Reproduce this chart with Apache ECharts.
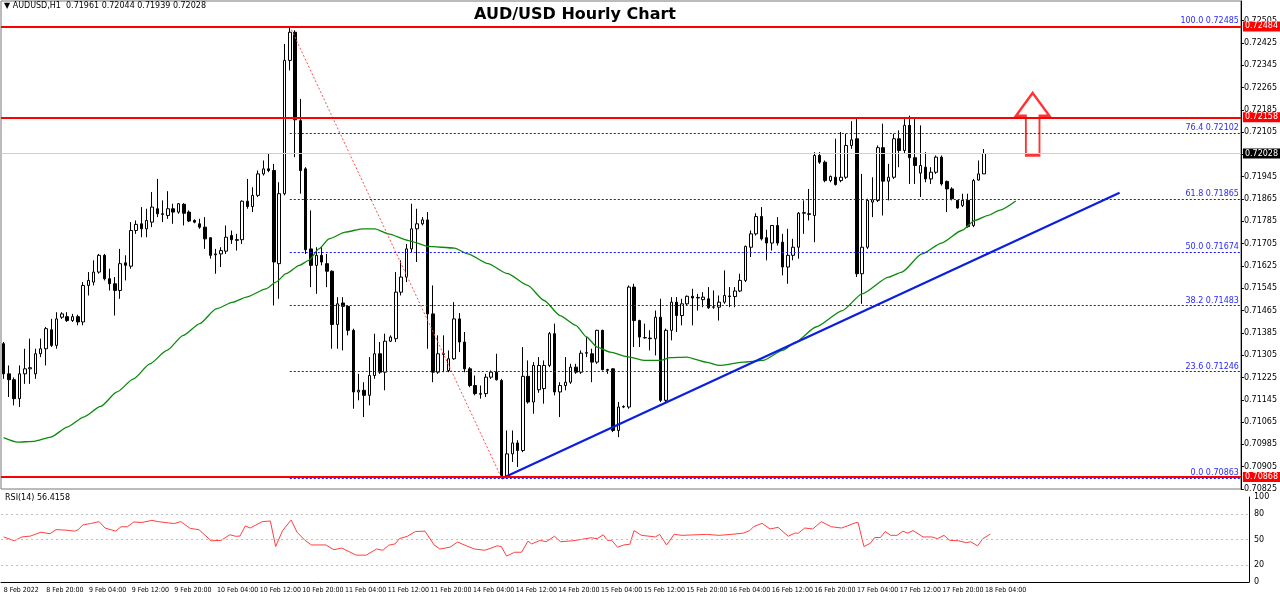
<!DOCTYPE html>
<html>
<head>
<meta charset="utf-8">
<script src="https://cdn.jsdelivr.net/npm/echarts@6/dist/echarts.min.js"></script>
<style>html,body{margin:0;padding:0;background:#fff}#chart{width:1280px;height:599px}</style>
</head>
<body>
<div id="chart"></div>
<script>
// hourly candles [open, close, low, high], 8 Feb 12:00 .. 18 Feb 05:00
var candles = [
[0.71346,0.71238,0.71220,0.71352],[0.71238,0.71217,0.71155,0.71268],[0.71217,0.71149,0.71125,0.71225],[0.71149,0.71238,0.71119,0.71268],
[0.71238,0.71256,0.71202,0.71328],[0.71256,0.71260,0.71202,0.71364],[0.71238,0.71310,0.71220,0.71328],[0.71310,0.71328,0.71298,0.71364],
[0.71328,0.71400,0.71268,0.71406],[0.71396,0.71340,0.71334,0.71435],[0.71340,0.71435,0.71328,0.71459],[0.71441,0.71453,0.71435,0.71459],
[0.71443,0.71429,0.71424,0.71459],[0.71429,0.71443,0.71424,0.71453],[0.71443,0.71424,0.71412,0.71450],[0.71424,0.71555,0.71412,0.71567],
[0.71555,0.71573,0.71519,0.71603],[0.71567,0.71603,0.71555,0.71645],[0.71603,0.71663,0.71597,0.71668],[0.71663,0.71579,0.71573,0.71668],
[0.71579,0.71561,0.71537,0.71615],[0.71561,0.71537,0.71447,0.71585],[0.71537,0.71633,0.71507,0.71686],[0.71636,0.71627,0.71573,0.71663],
[0.71624,0.71752,0.71615,0.71782],[0.71752,0.71774,0.71740,0.71788],[0.71776,0.71758,0.71728,0.71836],[0.71758,0.71788,0.71728,0.71830],
[0.71782,0.71836,0.71764,0.71890],[0.71830,0.71812,0.71800,0.71937],[0.71812,0.71810,0.71782,0.71860],[0.71806,0.71830,0.71794,0.71893],
[0.71830,0.71818,0.71776,0.71848],[0.71818,0.71848,0.71812,0.71850],[0.71846,0.71814,0.71770,0.71850],[0.71818,0.71786,0.71782,0.71824],
[0.71788,0.71782,0.71778,0.71792],[0.71776,0.71764,0.71758,0.71794],[0.71764,0.71722,0.71686,0.71800],[0.71726,0.71663,0.71651,0.71728],
[0.71665,0.71668,0.71597,0.71686],[0.71668,0.71680,0.71621,0.71692],[0.71678,0.71728,0.71668,0.71770],[0.71734,0.71719,0.71704,0.71752],
[0.71719,0.71717,0.71680,0.71740],[0.71719,0.71857,0.71704,0.71860],[0.71857,0.71838,0.71830,0.71937],[0.71838,0.71878,0.71818,0.71907],
[0.71878,0.71955,0.71872,0.71967],[0.71955,0.71973,0.71949,0.72003],[0.71973,0.71967,0.71961,0.72029],[0.71967,0.71639,0.71483,0.71991],
[0.71633,0.71884,0.71507,0.71925],[0.71884,0.72362,0.71878,0.72421],[0.72362,0.72463,0.72326,0.72485],[0.72463,0.72149,0.72015,0.72470],
[0.72146,0.71967,0.71884,0.72224],[0.71973,0.71683,0.71668,0.71979],[0.71686,0.71627,0.71549,0.71824],[0.71627,0.71663,0.71525,0.71692],
[0.71663,0.71639,0.71627,0.71692],[0.71633,0.71606,0.71549,0.71668],[0.71606,0.71415,0.71328,0.71609],[0.71415,0.71489,0.71328,0.71513],
[0.71492,0.71480,0.71322,0.71513],[0.71480,0.71394,0.71376,0.71483],[0.71394,0.71173,0.71113,0.71400],[0.71173,0.71179,0.71143,0.71238],
[0.71179,0.71161,0.71083,0.71208],[0.71161,0.71232,0.71125,0.71298],[0.71232,0.71310,0.71220,0.71382],[0.71310,0.71244,0.71238,0.71352],
[0.71244,0.71355,0.71179,0.71382],[0.71355,0.71370,0.71352,0.71376],[0.71364,0.71531,0.71352,0.71603],[0.71531,0.71585,0.71519,0.71645],
[0.71585,0.71686,0.71567,0.71704],[0.71686,0.71758,0.71674,0.71848],[0.71758,0.71776,0.71639,0.71830],[0.71776,0.71790,0.71770,0.71800],
[0.71790,0.71453,0.71328,0.71818],[0.71453,0.71244,0.71208,0.71555],[0.71244,0.71310,0.71238,0.71376],[0.71310,0.71308,0.71244,0.71376],
[0.71250,0.71292,0.71244,0.71322],[0.71292,0.71435,0.71288,0.71495],[0.71435,0.71352,0.71316,0.71456],[0.71352,0.71256,0.71244,0.71388],
[0.71256,0.71196,0.71190,0.71262],[0.71196,0.71167,0.71161,0.71232],[0.71167,0.71165,0.71149,0.71196],[0.71167,0.71226,0.71155,0.71238],
[0.71226,0.71244,0.71220,0.71250],[0.71244,0.71217,0.71214,0.71310],[0.71214,0.70868,0.70863,0.71220],[0.70868,0.70951,0.70863,0.71035],
[0.70951,0.70990,0.70922,0.71035],[0.70990,0.70963,0.70904,0.71000],[0.70963,0.71229,0.70957,0.71334],[0.71229,0.71137,0.71131,0.71286],
[0.71137,0.71268,0.71095,0.71280],[0.71181,0.71268,0.71170,0.71298],[0.71185,0.71268,0.71131,0.71286],[0.71268,0.71382,0.71262,0.71388],
[0.71382,0.71173,0.71161,0.71418],[0.71173,0.71196,0.71083,0.71208],[0.71196,0.71208,0.71179,0.71298],[0.71208,0.71262,0.71202,0.71274],
[0.71262,0.71244,0.71238,0.71274],[0.71244,0.71312,0.71238,0.71322],[0.71312,0.71314,0.71298,0.71370],[0.71310,0.71280,0.71208,0.71328],
[0.71280,0.71394,0.71274,0.71396],[0.71394,0.71253,0.71250,0.71396],[0.71253,0.71251,0.71238,0.71256],[0.71256,0.71035,0.71029,0.71258],
[0.71035,0.71119,0.71011,0.71137],[0.71119,0.71121,0.71115,0.71125],[0.71119,0.71549,0.71113,0.71555],[0.71549,0.71429,0.71334,0.71561],
[0.71429,0.71370,0.71334,0.71432],[0.71368,0.71367,0.71364,0.71418],[0.71364,0.71366,0.71322,0.71394],[0.71364,0.71441,0.71304,0.71465],
[0.71441,0.71143,0.71137,0.71507],[0.71143,0.71394,0.71137,0.71400],[0.71394,0.71495,0.71358,0.71513],[0.71495,0.71447,0.71388,0.71513],
[0.71447,0.71489,0.71412,0.71507],[0.71489,0.71516,0.71483,0.71519],[0.71516,0.71510,0.71412,0.71543],[0.71510,0.71512,0.71465,0.71525],
[0.71504,0.71513,0.71477,0.71531],[0.71507,0.71475,0.71471,0.71549],[0.71477,0.71478,0.71471,0.71537],[0.71477,0.71495,0.71429,0.71519],
[0.71495,0.71519,0.71489,0.71609],[0.71517,0.71515,0.71477,0.71549],[0.71515,0.71535,0.71477,0.71549],[0.71535,0.71573,0.71531,0.71597],
[0.71573,0.71695,0.71567,0.71698],[0.71692,0.71740,0.71657,0.71752],[0.71740,0.71802,0.71734,0.71814],[0.71802,0.71722,0.71716,0.71836],
[0.71726,0.71707,0.71645,0.71755],[0.71707,0.71770,0.71680,0.71770],[0.71770,0.71707,0.71698,0.71800],[0.71710,0.71621,0.71591,0.71740],
[0.71621,0.71663,0.71561,0.71758],[0.71663,0.71692,0.71645,0.71722],[0.71692,0.71814,0.71651,0.71818],[0.71814,0.71816,0.71740,0.71860],
[0.71812,0.71810,0.71788,0.71901],[0.71806,0.72021,0.71710,0.72033],[0.72021,0.71997,0.71991,0.72033],[0.71997,0.71931,0.71925,0.72003],
[0.71931,0.71946,0.71925,0.71949],[0.71943,0.71917,0.71913,0.72081],[0.71931,0.71943,0.71925,0.72105],[0.71943,0.72057,0.71937,0.72099],
[0.72057,0.72077,0.72045,0.72144],[0.72081,0.71597,0.71585,0.72152],[0.71597,0.71692,0.71489,0.71955],[0.71692,0.71860,0.71686,0.71866],
[0.71854,0.71862,0.71800,0.71943],[0.71860,0.72049,0.71854,0.72057],[0.72049,0.71929,0.71806,0.72135],[0.71929,0.71943,0.71860,0.71991],
[0.71943,0.72081,0.71937,0.72099],[0.72081,0.72039,0.71979,0.72111],[0.72039,0.72129,0.72027,0.72152],[0.72129,0.72013,0.71919,0.72164],
[0.72013,0.71985,0.71919,0.72158],[0.71958,0.71985,0.71872,0.72129],[0.71979,0.71937,0.71925,0.72033],[0.71937,0.71961,0.71919,0.71979],
[0.71961,0.72015,0.71955,0.72021],[0.72015,0.71919,0.71913,0.72021],[0.71928,0.71901,0.71818,0.71931],[0.71901,0.71866,0.71860,0.71907],
[0.71860,0.71833,0.71830,0.71860],[0.71842,0.71860,0.71836,0.71884],[0.71860,0.71766,0.71762,0.71884],[0.71770,0.71931,0.71764,0.71937],
[0.71933,0.71955,0.71931,0.72003],[0.71955,0.72028,0.71955,0.72044]
];

// moving average, [bar index, value]
var maLine = [
[0,0.71009],[2.6,0.70993],[5.75,0.70996],[8.9,0.71011],[12,0.71047],[15.1,0.71083],[18.3,0.71121],[21.4,0.71173],
[24.5,0.71220],[27.6,0.71274],[30.8,0.71322],[33.9,0.71376],[37,0.71418],[40.1,0.71471],[43.3,0.71495],[45.8,0.71513],
[49.5,0.71543],[51.4,0.71567],[53.3,0.71597],[55.8,0.71627],[57.6,0.71645],[59.5,0.71686],[61.4,0.71722],[64.5,0.71746],
[67.6,0.71758],[70.1,0.71758],[72.6,0.71740],[76.4,0.71716],[80.1,0.71695],[85.1,0.71689],[87.6,0.71668],[91.4,0.71633],
[95.1,0.71597],[98.9,0.71555],[102,0.71501],[105,0.71447],[108,0.71412],[110,0.71370],[112,0.71334],[114.5,0.71316],
[117.6,0.71300],[120.8,0.71286],[123.9,0.71286],[125.8,0.71296],[128.9,0.71298],[132.6,0.71280],[135.1,0.71268],[139.5,0.71280],
[143.3,0.71286],[147,0.71322],[149.5,0.71352],[153.3,0.71406],[158.3,0.71465],[162,0.71525],[167,0.71585],[169.5,0.71603],
[173.3,0.71668],[177,0.71707],[180.8,0.71752],[183.3,0.71788],[185.8,0.71806],[188,0.71825],[191,0.71858]
];

// RSI(14), [bar index, value]
var rsiLine = [
[0,53],[2,48.5],[3.4,53],[5,54],[7,58.6],[8.7,56.8],[9.8,61.6],[11.7,61],[13.3,59.8],[14,61.6],[14.8,67],[16.3,68.8],
[17.9,71],[19,63.5],[21,59.8],[22,65],[23.2,65],[24.4,70.6],[25.9,70],[27.8,72.5],[29,71],[30.9,69.5],[32,68.8],[33.2,71],
[35,63],[36.6,61.6],[38.9,48.5],[40.8,49],[42.4,55.6],[43.5,53.8],[44.3,54],[45.3,66],[46.2,63.5],[48.5,71],[50,71.8],
[51,41.8],[52.3,60.5],[53.9,72.9],[55,58.6],[56.5,49],[57.7,43.6],[58.8,43.6],[60.4,43.6],[61.9,38],[63.4,39.9],[66.1,31.6],
[68,31.6],[69.9,38.8],[71.1,37.3],[72.2,43.3],[73.4,44.8],[74.2,51],[75.7,53.8],[77.2,59.4],[79,59.8],[80.7,43.6],[81.8,38.8],
[83.7,41],[85.1,47],[86.8,42.5],[88.3,38.8],[90.2,37.3],[91.4,39.9],[92.5,42.5],[93.3,41.8],[94.3,30.5],[95.8,35],[97.1,35],
[98.3,48],[99,44.8],[100.6,49],[101.7,47.4],[103.3,53.8],[104.4,47.4],[106.7,48.5],[108.2,50],[110.1,52],[111.3,51],
[112.4,55.6],[113.2,49],[114,49],[115.1,41],[116.3,43.6],[117.4,44.4],[118.2,60.5],[119.6,54.9],[122.2,53],[123,56],
[124.3,43.6],[125.7,56],[127.2,54.9],[131.8,56],[134.1,54.9],[136.4,56],[138.7,57.5],[139.9,60.5],[140.6,65],[142.2,69],
[143.7,62.4],[145.2,64.3],[147.1,53.8],[148.3,57.5],[149,57.5],[150.2,63.5],[151.7,62.4],[153.3,71],[155.2,65],[157.1,63.5],
[158.2,66],[159.8,69.9],[160.2,69.9],[161.3,41.8],[162.5,45.5],[163.3,52.3],[164.4,52.3],[165.3,59.4],[166.3,54.9],
[167.5,54.9],[168.6,59.8],[169.5,57.5],[170.5,60.5],[172.4,53],[174,53],[175.1,51],[176.3,54.9],[177.4,49],[179,48.5],
[180.5,46.2],[181.3,47.4],[182.6,42.5],[183.6,51],[185,56.4]
];

// time labels, one every 8 bars
var timeLabels = ['8 Feb 2022','8 Feb 20:00','9 Feb 04:00','9 Feb 12:00','9 Feb 20:00','10 Feb 04:00','10 Feb 12:00',
'10 Feb 20:00','11 Feb 04:00','11 Feb 12:00','11 Feb 20:00','14 Feb 04:00','14 Feb 12:00','14 Feb 20:00','15 Feb 04:00',
'15 Feb 12:00','15 Feb 20:00','16 Feb 04:00','16 Feb 12:00','16 Feb 20:00','17 Feb 04:00','17 Feb 12:00','17 Feb 20:00','18 Feb 04:00'];

// fibonacci levels of the 0.72485 -> 0.70863 swing
var fibNames = ['100.0','76.4','61.8','50.0','38.2','23.6','0.0'];
var fibLevels = [0.72485, 0.72102, 0.71865, 0.71674, 0.71483, 0.71246, 0.70863];
// horizontal levels
var redLevels = [0.72484, 0.72158, 0.70868];
var lastPrice = 0.72028;
// trend lines [bar, price]
var fibSwing = [[54, 0.72485], [94, 0.70863]];
var supportLine = [[94, 0.70863], [210.6, 0.71887]];

var slots = [];
for (var i = 0; i < 234; i++) slots.push(i);

var myChart = echarts.init(document.getElementById('chart'));
var fnt = 'Tahoma, "DejaVu Sans", sans-serif';

function hline(v) {
    return [{coord: [-0.5, v]}, {coord: [233.5, v]}];
}
var fibMarks = fibLevels.map(function (v, k) {
    return [{coord: [54, v], label: {formatter: fibNames[k] + ' ' + v.toFixed(5)}}, {coord: [233.5, v]}];
});
var redMarks = redLevels.map(function (v) {
    var l = hline(v);
    l[0].label = {formatter: v.toFixed(5)};
    return l;
});
var lastMark = hline(lastPrice);
lastMark[0].label = {formatter: lastPrice.toFixed(5)};

var option = {
    animation: false,
    backgroundColor: '#fff',
    title: {
        text: 'AUD/USD Hourly Chart', left: 570, top: 2, textAlign: 'center',
        textStyle: {fontSize: 16, fontWeight: 'bold', color: '#000', fontFamily: fnt}
    },
    graphic: [
        {type: 'text', left: 4, top: 2, style: {text: '▼ AUDUSD,H1  0.71961 0.72044 0.71939 0.72028', fontSize: 8, fill: '#000', fontFamily: fnt}},
        {type: 'text', left: 5, top: 494, style: {text: 'RSI(14) 56.4158', fontSize: 8, fill: '#000', fontFamily: fnt}}
    ],
    grid: [
        {left: 1, top: 1, width: 1248, height: 488, show: true, borderColor: '#777', borderWidth: 1},
        {left: 1, top: 497, width: 1248, height: 85, show: false}
    ],
    xAxis: [
        {type: 'category', gridIndex: 0, data: slots, show: false},
        {type: 'category', gridIndex: 1, data: slots,
            axisLine: {lineStyle: {color: '#000'}},
            axisTick: {interval: function (i) { return i % 8 === 0; }, lineStyle: {color: '#000'}, length: 3},
            axisLabel: {
                interval: function (i) { return i % 8 === 0 && timeLabels[i / 8] !== undefined; },
                formatter: function (v, i) { return timeLabels[i / 8] || ''; },
                showMinLabel: true, showMaxLabel: true, hideOverlap: false,
                fontSize: 7, color: '#000', align: 'left', margin: 5,
                fontFamily: '"DejaVu Sans Condensed", "Liberation Sans Narrow", sans-serif'
            }
        },
        {type: 'value', gridIndex: 0, min: -0.5, max: 233.5, show: false},
        {type: 'value', gridIndex: 1, min: -0.5, max: 233.5, show: false}
    ],
    yAxis: [
        {type: 'value', gridIndex: 0, position: 'right', min: 0.70825, max: 0.72575, interval: 0.0008,
            axisLine: {show: true, onZero: false, lineStyle: {color: '#000'}},
            axisTick: {show: true, length: 3},
            splitLine: {show: false},
            axisLabel: {showMaxLabel: false, fontSize: 8, color: '#000', margin: 3, fontFamily: fnt,
                formatter: function (v) { return v.toFixed(5); }}
        },
        {type: 'value', gridIndex: 1, position: 'right', min: 0, max: 100, interval: 10,
            axisLine: {show: true, onZero: false, lineStyle: {color: '#000'}},
            axisTick: {show: false},
            splitLine: {show: false},
            axisLabel: {fontSize: 8, color: '#000', margin: 5, fontFamily: fnt,
                formatter: function (v) { return [0, 20, 50, 80, 100].indexOf(v) >= 0 ? String(v) : ''; }}
        }
    ],
    series: [
        {
            type: 'line', xAxisIndex: 2, yAxisIndex: 0, data: [], silent: true,
            markLine: {
                symbol: 'none', silent: true,
                lineStyle: {color: '#1010ff', type: [2, 2], width: 1},
                label: {position: 'insideEndTop', color: '#2a2aff', fontSize: 8, distance: [2, 1], fontFamily: fnt},
                data: fibMarks
            }
        },
        {
            type: 'line', xAxisIndex: 2, yAxisIndex: 0, data: [], silent: true,
            markLine: {
                symbol: 'none', silent: true,
                lineStyle: {color: '#cfcfcf', type: 'solid', width: 1},
                label: {position: 'end', color: '#fff', backgroundColor: '#000', fontSize: 8, padding: [1, 2], distance: 2, fontFamily: fnt},
                data: [lastMark]
            }
        },
        {
            type: 'line', xAxisIndex: 2, yAxisIndex: 0, data: [], silent: true,
            markLine: {
                symbol: 'none', silent: true,
                lineStyle: {color: '#ff0000', type: 'solid', width: 2},
                label: {position: 'end', color: '#fff', backgroundColor: '#ff0000', fontSize: 8, padding: [1, 2], distance: 2, fontFamily: fnt},
                data: redMarks
            }
        },
        {
            type: 'candlestick', xAxisIndex: 0, yAxisIndex: 0, data: candles, barWidth: 3,
            itemStyle: {color: '#fff', color0: '#000', borderColor: '#000', borderColor0: '#000', borderWidth: 1}
        },
        {
            type: 'line', xAxisIndex: 2, yAxisIndex: 0, data: maLine, smooth: 0.2, smoothMonotone: 'x', showSymbol: false,
            lineStyle: {color: '#0a8a0a', width: 1.3}
        },
        {
            type: 'line', xAxisIndex: 2, yAxisIndex: 0, data: fibSwing, showSymbol: false,
            lineStyle: {color: '#ff5050', width: 1, type: [2, 2]}
        },
        {
            type: 'line', xAxisIndex: 2, yAxisIndex: 0, data: supportLine, showSymbol: false,
            lineStyle: {color: '#0a1fe0', width: 2.2}
        },
        {
            type: 'scatter', xAxisIndex: 2, yAxisIndex: 0, silent: true,
            data: [[194.2, 0.72134]],
            symbol: 'path://M10,0 L20,12 L14,12 L14,32 L6,32 L6,12 L0,12 Z',
            symbolSize: [34, 62],
            itemStyle: {color: 'rgba(0,0,0,0)', borderColor: '#ff0000', borderWidth: 2.5}
        },
        {
            type: 'line', xAxisIndex: 3, yAxisIndex: 1, data: rsiLine, showSymbol: false,
            lineStyle: {color: '#ff4040', width: 1},
            markLine: {
                symbol: 'none', silent: true, label: {show: false},
                lineStyle: {color: '#c0c0c0', type: [2, 3], width: 1},
                data: [{yAxis: 80}, {yAxis: 50}, {yAxis: 20}]
            }
        }
    ]
};
myChart.setOption(option);
</script>
</body>
</html>
